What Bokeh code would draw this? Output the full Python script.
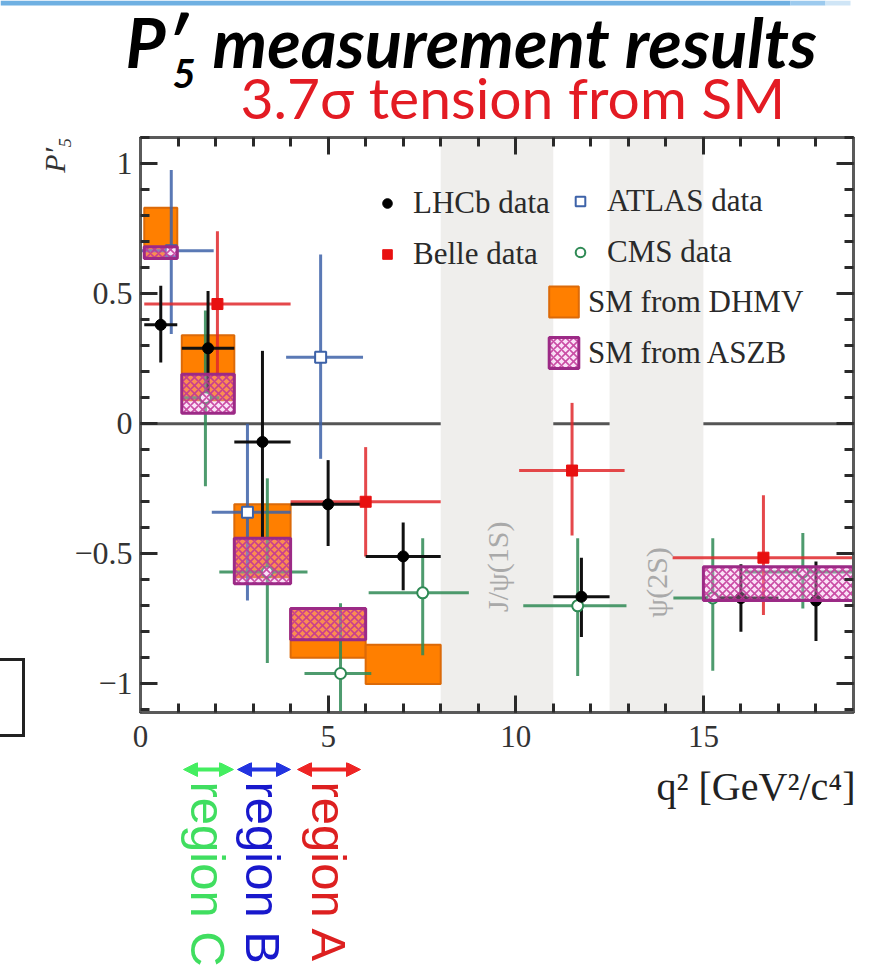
import math
from bokeh.plotting import figure
from bokeh.layouts import column, row
from bokeh.models import (Arrow, NormalHead, Span, Legend, LegendItem, Div,
                          LinearAxis, FixedTicker, Title, Range1d)
from bokeh.core.properties import value
from bokeh.embed import file_html
from bokeh.resources import INLINE

# ---------------- data ----------------
band_lo = [8.0, 12.5]
band_hi = [11.0, 15.0]
band_names = ["J/\u03c8(1S)", "\u03c8(2S)"]
band_label_y = [-0.55, -0.61]

lhcb_lo = [0.1, 1.1, 2.5, 4.0, 6.0, 11.0, 15.0, 17.0]
lhcb_hi = [0.98, 2.5, 4.0, 6.0, 8.0, 12.5, 17.0, 19.0]
lhcb_x = [0.54, 1.8, 3.25, 5.0, 7.0, 11.75, 16.0, 18.0]
lhcb_y = [0.38, 0.29, -0.07, -0.31, -0.51, -0.665, -0.67, -0.68]
lhcb_up = [0.15, 0.22, 0.35, 0.17, 0.13, 0.15, 0.13, 0.15]
lhcb_dn = [0.145, 0.20, 0.37, 0.16, 0.13, 0.155, 0.13, 0.155]

belle_lo = [0.1, 4.0, 10.09, 14.18]
belle_hi = [4.0, 8.0, 12.9, 19.0]
belle_x = [2.05, 6.0, 11.5, 16.6]
belle_y = [0.46, -0.30, -0.18, -0.515]
belle_up = [0.28, 0.21, 0.26, 0.24]
belle_dn = [0.28, 0.21, 0.25, 0.22]

atlas_lo = [0.04, 1.9, 3.88]
atlas_hi = [1.95, 4.0, 5.93]
atlas_x = [0.82, 2.85, 4.8]
atlas_y = [0.665, -0.34, 0.255]
atlas_up = [0.31, 0.34, 0.395]
atlas_dn = [0.32, 0.34, 0.39]

cms_lo = [1.1, 2.1, 4.37, 6.08, 10.2, 14.2, 16.1]
cms_hi = [2.1, 4.45, 6.15, 8.75, 12.95, 16.1, 19.0]
cms_x = [1.73, 3.38, 5.33, 7.52, 11.65, 15.25, 17.65]
cms_y = [0.10, -0.57, -0.96, -0.65, -0.70, -0.67, -0.57]
cms_up = [0.335, 0.36, 0.27, 0.21, 0.26, 0.23, 0.15]
cms_dn = [0.34, 0.35, 0.25, 0.24, 0.27, 0.28, 0.14]

dhmv_lo = [0.1, 1.1, 2.5, 4.0, 6.0]
dhmv_hi = [0.98, 2.5, 4.0, 6.0, 8.0]
dhmv_bot = [0.64, 0.09, -0.59, -0.90, -1.0]
dhmv_top = [0.83, 0.34, -0.31, -0.71, -0.85]

aszb_lo = [0.1, 1.1, 2.5, 4.0, 15.0]
aszb_hi = [0.98, 2.5, 4.0, 6.0, 19.0]
aszb_bot = [0.635, 0.04, -0.615, -0.83, -0.68]
aszb_top = [0.68, 0.19, -0.44, -0.71, -0.55]

x_major = [0, 5, 10, 15]
x_minor = list(range(0, 20))
y_major = [-1.0, -0.5, 0.0, 0.5, 1.0]
y_minor = [round(-1.1 + 0.1 * i, 2) for i in range(23)]
y_tick_text = {-1.0: "\u22121", -0.5: "\u22120.5", 0.0: "0", 0.5: "0.5", 1.0: "1"}

title_parts = ["P\u2032", "5", "measurement results"]
subtitle_text = "3.7\u03c3 tension from SM"
y_label_text = "P\u2032\u2085"
x_label_text = "q\u00b2 [GeV\u00b2/c\u2074]"
region_names = ["region C", "region B", "region A"]
region_colors = ["#40de60", "#1818cc", "#dd2020"]
arrow_colors = ["#44ee60", "#2233e0", "#ee2424"]

# ---------------- page geometry (pixels) ----------------
W, H = 870, 968
TOP_H = 133                 # title strip: page y 0..133
LEFT_W = 30                 # left strip: page x 0..30
BOT_TOP = 762               # bottom strip: page y 762..968
MAIN_H = BOT_TOP - TOP_H
FL, FR, FT, FB = 140, 853, 137, 712   # plot frame in page pixels
X0, X1 = 0.0, 19.0
Y0, Y1 = -1.11, 1.10


def mid(baseline_px, size_px):
    # vertical centre of a text line whose baseline sits at baseline_px (y = -page px)
    return -(baseline_px - 0.36 * size_px)


# ---------------- title strip (y = -page pixel) ----------------
top = figure(width=W, height=TOP_H, x_range=Range1d(0, W), y_range=Range1d(-TOP_H, 0),
             x_axis_type=None, y_axis_type=None, toolbar_location=None,
             output_backend="svg", min_border=0)
top.outline_line_color = None
top.grid.visible = False
top.quad(left=[0, 790, 825], right=[790, 825, 850], bottom=-5, top=0,
         fill_color=["#6fb0e2", "#9ccaee", "#cfe5f6"], line_color=None)
top.text(x=[125, 212], y=[mid(66, 69)] * 2, text=[title_parts[0], title_parts[2]],
         text_font=value("Lato"), text_font_style="bold italic",
         text_font_size="69px", text_color="black", text_baseline="middle")
top.text(x=[172], y=[mid(87, 40)], text=[title_parts[1]],
         text_font=value("Lato"), text_font_style="bold italic",
         text_font_size="40px", text_color="black", text_baseline="middle")
top.text(x=[240], y=[mid(117, 57)], text=[subtitle_text],
         text_font=value("Lato"), text_font_size="57px", text_color="#e31b23",
         text_baseline="middle")

# ---------------- left strip (box fragment of the slide) ----------------
left = Div(width=LEFT_W, height=MAIN_H, margin=0,
           text=('<div style="position:absolute;left:0px;top:%dpx;width:25px;'
                 'height:79px;border:3px solid #222;border-left:none;"></div>'
                 % (658 - TOP_H)))

# ---------------- main figure ----------------
p = figure(width=W - LEFT_W, height=MAIN_H, x_range=(X0, X1), y_range=(Y0, Y1),
           output_backend="svg", toolbar_location=None,
           min_border_left=FL - LEFT_W, min_border_right=W - FR,
           min_border_top=FT - TOP_H, min_border_bottom=BOT_TOP - FB)
p.grid.visible = False
p.background_fill_color = "white"
p.border_fill_color = "white"
p.outline_line_color = "#5a5a5a"
p.outline_line_width = 3

bottom_ax = p.below[0]
left_ax = p.left[0]

p.quad(left=band_lo, right=band_hi, bottom=-5, top=5,
       fill_color="#efeeec", line_color=None)

r_dhmv = p.quad(left=dhmv_lo, right=dhmv_hi, bottom=dhmv_bot, top=dhmv_top,
                fill_color="#ff7f00", line_color="#dc6a08", line_width=2)

p.add_layout(Span(location=0, dimension="width", line_color="#555555", line_width=3,
                  level="underlay"))


def errbars(xs, ys, lo, hi, up, dn, color, alpha):
    p.segment(x0=xs, y0=[y - d for y, d in zip(ys, dn)],
              x1=xs, y1=[y + u for y, u in zip(ys, up)],
              line_color=color, line_width=3, line_alpha=alpha)
    p.segment(x0=lo, y0=ys, x1=hi, y1=ys, line_color=color, line_width=3,
              line_alpha=alpha)


errbars(atlas_x, atlas_y, atlas_lo, atlas_hi, atlas_up, atlas_dn, "#3d62a8", 0.85)
errbars(cms_x, cms_y, cms_lo, cms_hi, cms_up, cms_dn, "#2f8a55", 0.85)
errbars(belle_x, belle_y, belle_lo, belle_hi, belle_up, belle_dn, "#e0282c", 0.85)
errbars(lhcb_x, lhcb_y, lhcb_lo, lhcb_hi, lhcb_up, lhcb_dn, "#111111", 1.0)

r_atlas = p.scatter(atlas_x, atlas_y, marker="square", size=11,
                    fill_color="white", line_color="#3d62a8", line_width=2)
r_cms = p.scatter(cms_x, cms_y, marker="circle", size=11,
                  fill_color="white", line_color="#2f8a55", line_width=2)
r_belle = p.scatter(belle_x, belle_y, marker="square", size=11,
                    fill_color="#e81010", line_color="#e81010")
r_lhcb = p.scatter(lhcb_x, lhcb_y, marker="circle", size=11,
                   fill_color="black", line_color="black")

r_aszb = p.quad(left=aszb_lo, right=aszb_hi, bottom=aszb_bot, top=aszb_top,
                fill_color="#f0a8e8", fill_alpha=0.35,
                hatch_pattern="x", hatch_color="#c23296", hatch_alpha=0.85,
                hatch_scale=8, hatch_weight=1.6,
                line_color="#9c2a86", line_width=3)

p.text(x=[(a + b) / 2 for a, b in zip(band_lo, band_hi)], y=band_label_y,
       text=band_names, angle=math.pi / 2, text_align="center",
       text_baseline="middle", text_font=value("Liberation Serif"),
       text_font_size="30px", text_color="#a9a9a9")

# ---------------- axes ----------------
bottom_ax.ticker = FixedTicker(ticks=x_major, minor_ticks=x_minor)
left_ax.ticker = FixedTicker(ticks=y_major, minor_ticks=y_minor)
left_ax.major_label_overrides = y_tick_text
top_ax = LinearAxis(ticker=FixedTicker(ticks=x_major, minor_ticks=x_minor))
right_ax = LinearAxis(ticker=FixedTicker(ticks=y_major, minor_ticks=y_minor))
p.add_layout(top_ax, "above")
p.add_layout(right_ax, "right")

for ax in [bottom_ax, left_ax, top_ax, right_ax]:
    ax.axis_line_color = "#5a5a5a"
    ax.axis_line_width = 3
    ax.major_tick_in = 17
    ax.major_tick_out = 0
    ax.minor_tick_in = 9
    ax.minor_tick_out = 0
    ax.major_tick_line_color = "#2a2a2a"
    ax.major_tick_line_width = 3
    ax.minor_tick_line_color = "#2a2a2a"
    ax.minor_tick_line_width = 3
    ax.major_label_text_font = "Liberation Serif"
    ax.major_label_text_font_size = "32px"
    ax.major_label_text_color = "#333333"

bottom_ax.major_label_text_font_size = "31px"
bottom_ax.major_label_standoff = 13
left_ax.major_label_standoff = 8
for ax, ticks in [(top_ax, x_major), (right_ax, y_major)]:
    ax.major_label_overrides = {t: "" for t in ticks}
    ax.major_label_text_font_size = "1px"
    ax.major_label_standoff = 0

p.add_layout(Title(text=y_label_text, align="right",
                   text_font="Liberation Serif", text_font_style="italic",
                   text_font_size="30px", text_color="#333333", standoff=2), "left")

# ---------------- legends ----------------
def mk_legend(items, gw, gh, standoff, spacing, left_px, bottom_px):
    lg = Legend(items=items, location=(left_px - FL, FB - bottom_px),
                glyph_width=gw, glyph_height=gh, label_standoff=standoff,
                spacing=spacing, padding=0, margin=0,
                background_fill_alpha=0, border_line_alpha=0,
                label_text_font="Liberation Serif", label_text_font_size="31px",
                label_text_color="#2a2a2a", label_height=gh)
    p.add_layout(lg)


mk_legend([LegendItem(label="LHCb data", renderers=[r_lhcb]),
           LegendItem(label="Belle data", renderers=[r_belle])],
          24, 40, 14, 11, 375, 274)
mk_legend([LegendItem(label="ATLAS data", renderers=[r_atlas]),
           LegendItem(label="CMS data", renderers=[r_cms])],
          24, 40, 15, 11, 568, 272)
mk_legend([LegendItem(label="SM from DHMV", renderers=[r_dhmv]),
           LegendItem(label="SM from ASZB", renderers=[r_aszb])],
          37, 39, 6, 12, 545, 372)

# ---------------- bottom strip: axis title and region marks (y = -page pixel) ----
bot = figure(width=W, height=H - BOT_TOP, x_range=Range1d(0, W),
             y_range=Range1d(-H, -BOT_TOP), x_axis_type=None, y_axis_type=None,
             toolbar_location=None, output_backend="svg", min_border=0)
bot.outline_line_color = None
bot.grid.visible = False

bot.text(x=[855], y=[mid(800, 40)], text=[x_label_text], text_align="right",
         text_baseline="middle", text_font=value("Liberation Serif"),
         text_font_size="40px", text_color="#222222")

arrow_px = [(183, 233), (237, 290), (297, 360)]
text_px = [207, 262, 328]
for (a, b), ac in zip(arrow_px, arrow_colors):
    bot.add_layout(Arrow(x_start=a, y_start=-769, x_end=b, y_end=-769,
                         line_color=ac, line_width=4,
                         start=NormalHead(size=14, fill_color=ac, line_color=ac),
                         end=NormalHead(size=14, fill_color=ac, line_color=ac)))
bot.text(x=text_px, y=[-781] * 3, text=region_names, angle=-math.pi / 2,
         text_align="left", text_baseline="middle",
         text_font=value("Liberation Sans"), text_font_size="49px",
         text_color=region_colors)

layout = column(top, row(left, p), bot)
open("out.html", "w").write(file_html(layout, INLINE))
